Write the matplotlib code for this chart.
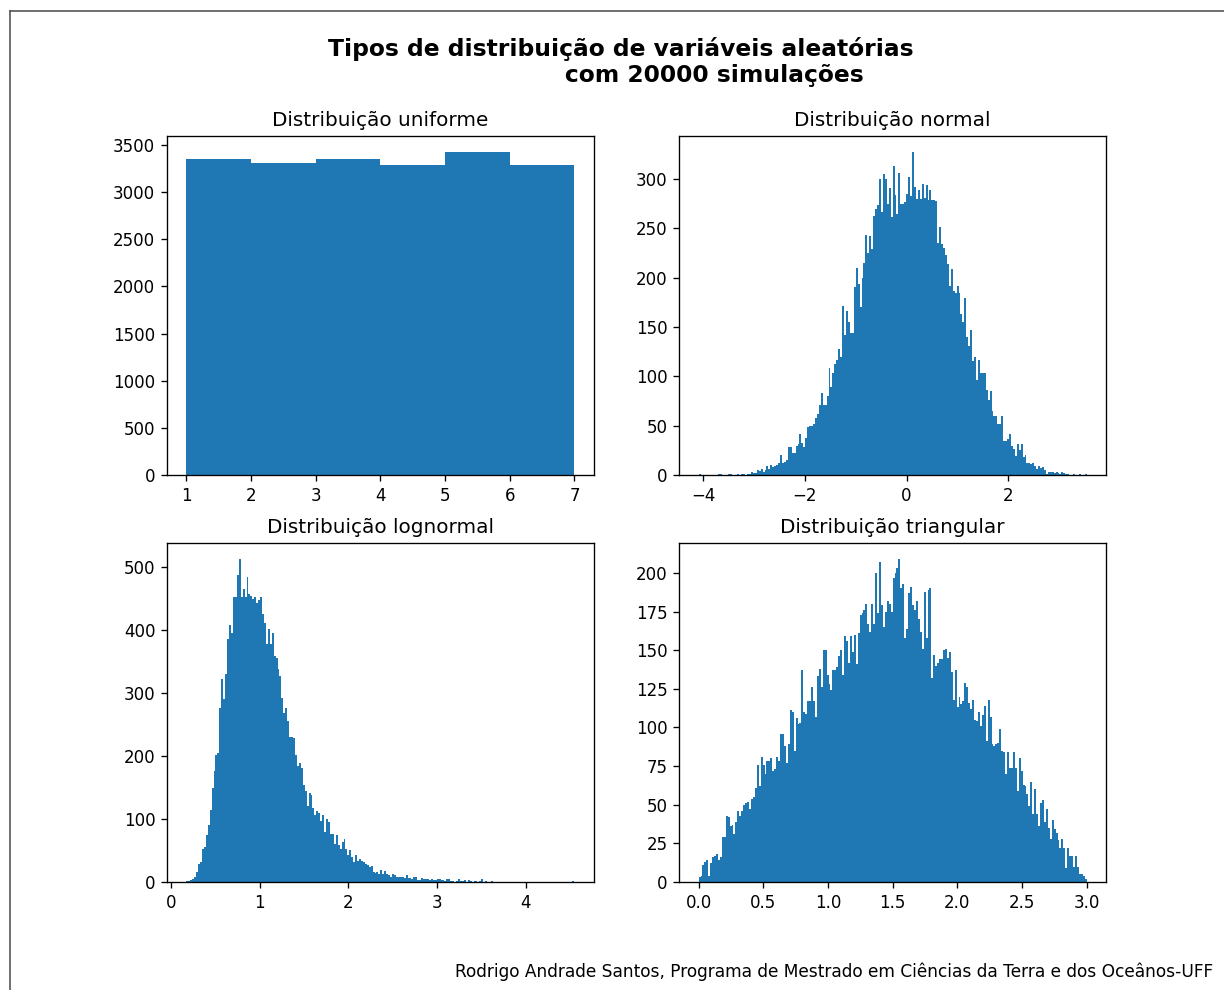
import numpy as np
import matplotlib
matplotlib.use("Agg")
import matplotlib.pyplot as plt
from matplotlib.lines import Line2D

# ---- data: bin counts for each distribution (20000 draws each) ----
uniform_edges = [1, 2, 3, 4, 5, 6, 7]
uniform_counts = [3354, 3305, 3354, 3284, 3422, 3287]

n_bins = 200

normal_range = (-4.09, 3.54)
normal_counts = [
    1, 0, 0, 0, 0, 0, 0, 0, 0, 0,
    1, 1, 0, 0, 0, 1, 1, 0, 0, 0,
    1, 0, 1, 1, 0, 1, 1, 3, 2, 2,
    5, 4, 6, 3, 5, 9, 6, 10, 8, 9,
    10, 12, 20, 12, 13, 15, 28, 28, 22, 22,
    29, 31, 42, 32, 28, 38, 49, 50, 50, 52,
    58, 62, 71, 83, 71, 71, 80, 108, 89, 103,
    112, 117, 128, 120, 171, 142, 166, 155, 144, 144,
    190, 210, 194, 170, 200, 215, 243, 225, 242, 229,
    262, 269, 274, 300, 266, 305, 300, 275, 291, 261,
    313, 284, 264, 306, 275, 275, 277, 285, 302, 283,
    327, 292, 280, 289, 280, 295, 281, 294, 279, 289,
    279, 279, 278, 235, 251, 234, 230, 223, 214, 191,
    209, 186, 184, 191, 184, 163, 155, 179, 140, 131,
    147, 116, 120, 96, 117, 103, 103, 103, 86, 76,
    85, 65, 60, 60, 52, 52, 60, 35, 35, 37,
    42, 29, 26, 19, 31, 25, 31, 18, 20, 12,
    12, 11, 12, 9, 6, 9, 7, 8, 5, 1,
    3, 3, 3, 2, 3, 2, 1, 3, 2, 1,
    1, 0, 0, 1, 0, 0, 1, 0, 0, 1,
]

lognormal_range = (0.1736, 4.546)
lognormal_counts = [
    1, 2, 3, 5, 8, 16, 29, 32, 53, 56,
    74, 90, 114, 149, 176, 202, 205, 277, 323, 290,
    330, 386, 408, 396, 452, 452, 488, 513, 452, 465,
    452, 485, 457, 455, 449, 453, 443, 448, 453, 426,
    411, 378, 402, 378, 396, 359, 356, 338, 327, 293,
    269, 277, 255, 230, 230, 229, 202, 184, 189, 181,
    154, 144, 120, 141, 138, 117, 106, 112, 109, 97,
    107, 80, 100, 96, 77, 76, 61, 74, 59, 52,
    64, 69, 52, 43, 51, 40, 32, 43, 33, 36,
    34, 32, 28, 27, 24, 26, 16, 15, 16, 13,
    19, 13, 17, 12, 11, 8, 12, 11, 8, 8,
    8, 8, 6, 11, 7, 6, 5, 8, 8, 3,
    3, 6, 5, 4, 4, 3, 4, 3, 3, 4,
    5, 3, 3, 1, 4, 5, 1, 1, 0, 1,
    5, 1, 1, 3, 0, 3, 1, 0, 1, 1,
    0, 1, 5, 0, 1, 0, 0, 1, 0, 0,
    0, 0, 0, 0, 0, 0, 0, 0, 0, 0,
    0, 0, 0, 0, 0, 0, 0, 0, 0, 0,
    0, 0, 0, 0, 0, 0, 0, 0, 0, 0,
    0, 0, 0, 0, 0, 0, 0, 0, 0, 1,
]

triangular_range = (0.0, 3.0)
triangular_counts = [
    3, 4, 11, 13, 14, 4, 12, 16, 17, 18,
    14, 16, 29, 29, 43, 42, 36, 37, 31, 39,
    46, 43, 46, 50, 51, 52, 47, 54, 55, 61,
    76, 62, 81, 76, 70, 78, 78, 80, 72, 73,
    81, 78, 96, 96, 88, 77, 89, 111, 110, 85,
    106, 102, 103, 137, 110, 109, 117, 117, 126, 117,
    107, 133, 138, 126, 150, 150, 134, 128, 124, 137,
    137, 139, 146, 150, 134, 159, 156, 142, 159, 149,
    160, 141, 161, 173, 174, 176, 180, 167, 162, 180,
    167, 200, 174, 207, 179, 165, 175, 182, 180, 175,
    197, 200, 203, 209, 190, 193, 158, 164, 187, 191,
    179, 176, 182, 170, 162, 151, 188, 158, 189, 190,
    132, 147, 140, 142, 144, 144, 150, 151, 145, 149,
    136, 118, 137, 113, 120, 115, 117, 129, 126, 116,
    112, 118, 105, 104, 110, 101, 108, 114, 91, 118,
    107, 89, 88, 89, 90, 99, 85, 84, 70, 84,
    74, 74, 84, 74, 59, 80, 72, 63, 62, 57,
    49, 65, 44, 60, 44, 36, 51, 53, 39, 47,
    35, 28, 40, 34, 32, 27, 22, 28, 22, 9,
    22, 17, 17, 10, 17, 10, 5, 5, 4, 2,
]

titles = ["Distribuição uniforme", "Distribuição normal",
          "Distribuição lognormal", "Distribuição triangular"]
main_title = ("Tipos de distribuição de variáveis aleatórias\n"
              + " " * 23 + "com 20000 simulações")
footer = ("Rodrigo Andrade Santos, Programa de Mestrado em Ciências "
          "da Terra e dos Oceânos-UFF")


def draw_hist(ax, edges, counts):
    edges = np.asarray(edges, dtype=float)
    centers = 0.5 * (edges[:-1] + edges[1:])
    ax.hist(centers, bins=edges, weights=counts, color="#1f77b4")


fig, axs = plt.subplots(2, 2, figsize=(10.2, 8.25), dpi=120)
fig.subplots_adjust(left=0.1364, right=0.9036, top=0.8626, bottom=0.1091,
                    wspace=0.2, hspace=0.2)

draw_hist(axs[0, 0], uniform_edges, uniform_counts)
draw_hist(axs[0, 1], np.linspace(*normal_range, n_bins + 1), normal_counts)
draw_hist(axs[1, 0], np.linspace(*lognormal_range, n_bins + 1), lognormal_counts)
draw_hist(axs[1, 1], np.linspace(*triangular_range, n_bins + 1), triangular_counts)

for ax, t in zip(axs.flat, titles):
    ax.set_title(t)

fig.suptitle(main_title, fontsize=14, fontweight="bold",
             x=0.5074, y=0.963, va="top", linespacing=1.18)
fig.text(0.991, 1 - 972 / 990, footer, ha="right", va="center", fontsize=10.2)

# frame lines along the top and left of the canvas
x0, y0 = 10 / 1224, 1 - 11 / 990
fig.add_artist(Line2D([x0, 1.0], [y0, y0], transform=fig.transFigure,
                      color="#444444", lw=0.9))
fig.add_artist(Line2D([x0, x0], [0.0, y0], transform=fig.transFigure,
                      color="#444444", lw=0.9))

fig.savefig("out.png", dpi=120)
